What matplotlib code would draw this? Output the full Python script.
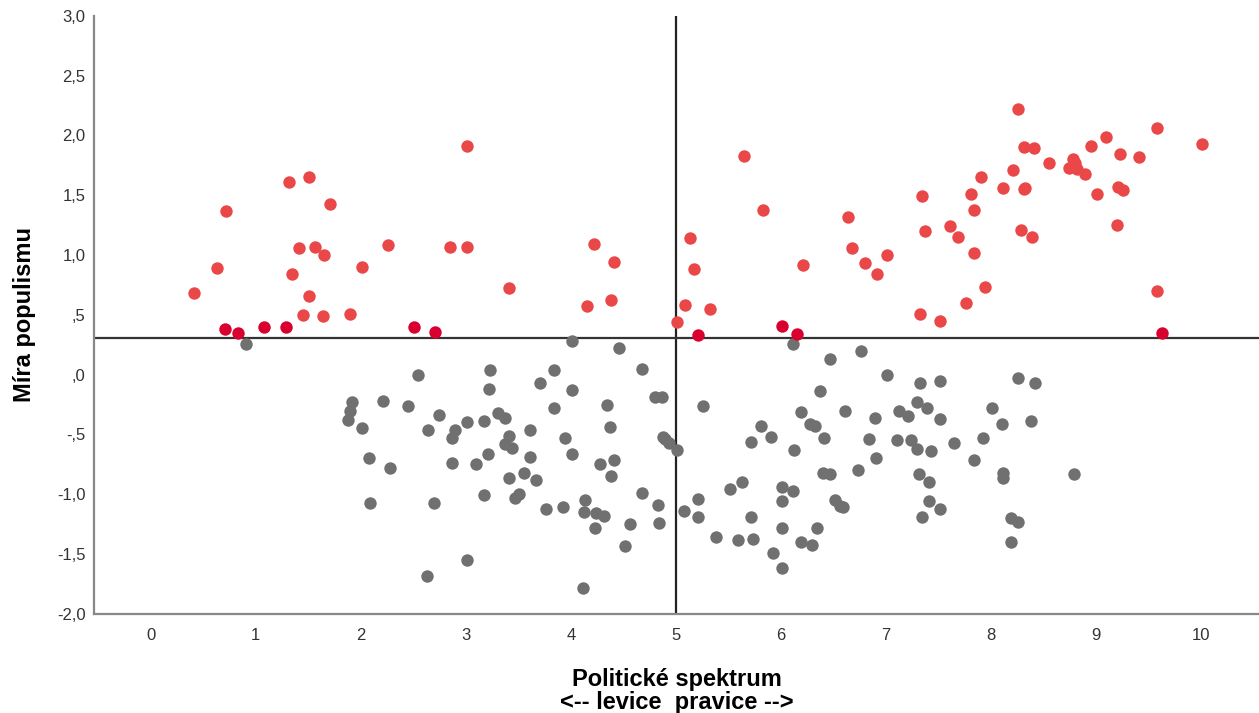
import matplotlib
matplotlib.use("Agg")
import matplotlib.pyplot as plt

plt.rcParams["font.family"] = ["Liberation Sans", "DejaVu Sans"]

# points above the mean line (light red)
red_x = [0.41, 0.63, 0.72, 1.32, 1.51, 1.71, 1.41, 1.56, 1.65, 1.34, 2.01, 2.26,
         1.51, 1.45, 1.64, 1.90, 3.01, 2.85, 3.01, 3.41, 4.22, 4.41, 4.15, 4.38,
         5.13, 5.17, 5.09, 5.32, 5.01, 5.65, 5.83, 6.21,
         8.26, 9.58, 10.01, 9.09, 8.95, 8.31, 8.41, 9.23, 9.41, 8.55, 8.78, 8.74,
         8.82, 8.89, 8.80, 8.21, 7.90, 8.11, 8.32, 8.31, 7.81, 7.84, 7.34, 9.21,
         9.26, 9.01, 6.64, 6.68, 6.80, 6.91, 7.01, 7.37, 7.61, 7.68, 7.84, 8.28,
         8.39, 9.20, 7.94, 7.76, 7.32, 7.51, 9.58]
red_y = [0.68, 0.89, 1.37, 1.61, 1.65, 1.43, 1.06, 1.07, 1.00, 0.84, 0.90, 1.08,
         0.66, 0.50, 0.49, 0.51, 1.91, 1.07, 1.07, 0.72, 1.09, 0.94, 0.57, 0.62,
         1.14, 0.88, 0.58, 0.55, 0.44, 1.83, 1.38, 0.92,
         2.22, 2.06, 1.93, 1.99, 1.91, 1.90, 1.89, 1.84, 1.82, 1.77, 1.80, 1.73,
         1.72, 1.68, 1.77, 1.71, 1.65, 1.56, 1.56, 1.55, 1.51, 1.38, 1.49, 1.57,
         1.54, 1.51, 1.32, 1.06, 0.93, 0.84, 1.00, 1.20, 1.24, 1.15, 1.02, 1.21,
         1.15, 1.25, 0.73, 0.60, 0.51, 0.45, 0.70]

# points just above the line (dark red)
dark_x = [0.71, 0.83, 1.08, 1.29, 2.51, 2.71, 5.21, 6.01, 6.15, 9.63]
dark_y = [0.38, 0.35, 0.40, 0.40, 0.40, 0.36, 0.33, 0.41, 0.34, 0.35]

# points below the line (gray)
gray_x = [0.91, 4.01, 4.46, 6.11, 6.47, 6.76,
          2.54, 1.92, 1.90, 1.88, 2.01, 2.21, 2.45, 2.08, 2.28, 2.09,
          2.64, 2.74, 2.70, 2.63, 3.23, 3.22, 3.01, 2.90, 2.87, 2.87, 3.17, 3.31,
          3.37, 3.41, 3.37, 3.44, 3.10, 3.21, 3.17, 3.01, 3.61, 3.61, 3.55, 3.41,
          3.67, 3.47, 3.51, 3.71, 3.84, 3.84, 4.01, 3.94, 4.01, 3.76, 3.92, 4.11,
          4.34, 4.37, 4.41, 4.28, 4.38, 4.13, 4.12, 4.24, 4.31, 4.23, 4.56, 4.51,
          4.68, 4.83, 4.84, 4.68, 4.80, 4.87, 4.90, 4.93, 5.01, 4.88,
          5.26, 5.08, 5.21, 5.21, 5.38, 5.51, 5.63, 5.71, 5.81, 5.90, 5.71, 5.59,
          5.73, 5.92, 6.01, 6.01, 6.01, 6.01, 6.11, 6.12, 6.19, 6.28, 6.32, 6.41,
          6.37, 6.40, 6.47, 6.19, 6.29, 6.34, 6.51, 6.56,
          6.61, 6.59, 7.01, 6.89, 6.84, 6.90, 6.73, 7.12, 7.21, 7.10, 7.24, 7.29,
          7.43, 7.29, 7.32, 7.51, 7.39, 7.51, 7.65, 7.31, 7.41, 7.41, 7.51, 7.34,
          7.84, 7.92, 8.01, 8.10, 8.26, 8.42, 8.38, 8.11, 8.11, 8.19, 8.26, 8.19,
          8.79]
gray_y = [0.26, 0.28, 0.22, 0.26, 0.13, 0.20,
          0.00, -0.23, -0.30, -0.38, -0.45, -0.22, -0.26, -0.70, -0.78, -1.07,
          -0.46, -0.34, -1.07, -1.68, 0.04, -0.12, -0.40, -0.46, -0.53, -0.74,
          -0.39, -0.32, -0.36, -0.51, -0.58, -0.61, -0.75, -0.66, -1.01, -1.55,
          -0.46, -0.69, -0.82, -0.86, -0.88, -1.03, -1.00, -0.07, 0.04, -0.28,
          -0.13, -0.53, -0.66, -1.12, -1.11, -1.78,
          -0.25, -0.44, -0.71, -0.75, -0.85, -1.05, -1.15, -1.16, -1.18, -1.28,
          -1.25, -1.43, -0.99, -1.09, -1.24, 0.05, -0.19, -0.19, -0.54, -0.57,
          -0.63, -0.52,
          -0.26, -1.14, -1.04, -1.19, -1.36, -0.96, -0.90, -0.56, -0.43, -0.52,
          -1.19, -1.38, -1.37, -1.49, -1.62, -1.28, -0.94, -1.06, -0.97, -0.63,
          -0.31, -0.41, -0.43, -0.53, -0.14, -0.82, -0.83, -1.40, -1.42, -1.28,
          -1.05, -1.10,
          -0.30, -1.11, 0.00, -0.36, -0.54, -0.70, -0.80, -0.30, -0.35, -0.55,
          -0.55, -0.62, -0.64, -0.23, -0.07, -0.05, -0.28, -0.37, -0.57, -0.83,
          -0.90, -1.06, -1.12, -1.19, -0.71, -0.53, -0.28, -0.41, -0.03, -0.07,
          -0.39, -0.82, -0.86, -1.20, -1.23, -1.40, -0.83]

x_ticks = list(range(0, 11))
y_ticks = [3.0, 2.5, 2.0, 1.5, 1.0, 0.5, 0.0, -0.5, -1.0, -1.5, -2.0]
y_tick_labels = ["3,0", "2,5", "2,0", "1,5", "1,0", ",5", ",0", "-,5", "-1,0", "-1,5", "-2,0"]

x_ref = 5.0
y_ref = 0.31

fig = plt.figure(figsize=(12.59, 7.13), dpi=100)
ax = fig.add_axes([0.0747, 0.139, 0.9253, 0.839])

ax.scatter(gray_x, gray_y, s=80, color="#707070", linewidths=0, zorder=3)
ax.scatter(red_x, red_y, s=80, color="#ea4848", linewidths=0, zorder=3)
ax.scatter(dark_x, dark_y, s=80, color="#d90030", linewidths=0, zorder=3)

ax.axvline(x_ref, color="#222222", linewidth=1.6, zorder=2)
ax.axhline(y_ref, color="#333333", linewidth=1.6, zorder=2)

ax.set_xlim(-0.54, 10.55)
ax.set_ylim(-2.0, 3.0)
ax.set_xticks(x_ticks)
ax.set_xticklabels([str(t) for t in x_ticks])
ax.set_yticks(y_ticks)
ax.set_yticklabels(y_tick_labels)
ax.tick_params(length=0, labelsize=12, labelcolor="#333333")
ax.tick_params(axis="x", pad=10)
ax.tick_params(axis="y", pad=6)

for side in ("top", "right"):
    ax.spines[side].set_visible(False)
for side in ("left", "bottom"):
    ax.spines[side].set_color("#888888")
    ax.spines[side].set_linewidth(1.6)

ax.set_xlabel("Politické spektrum\n<-- levice  pravice -->", fontsize=17,
              fontweight="bold", labelpad=18, linespacing=1.0)
ax.set_ylabel("Míra populismu", fontsize=17, fontweight="bold", labelpad=15)

fig.savefig("out.png", dpi=100)
